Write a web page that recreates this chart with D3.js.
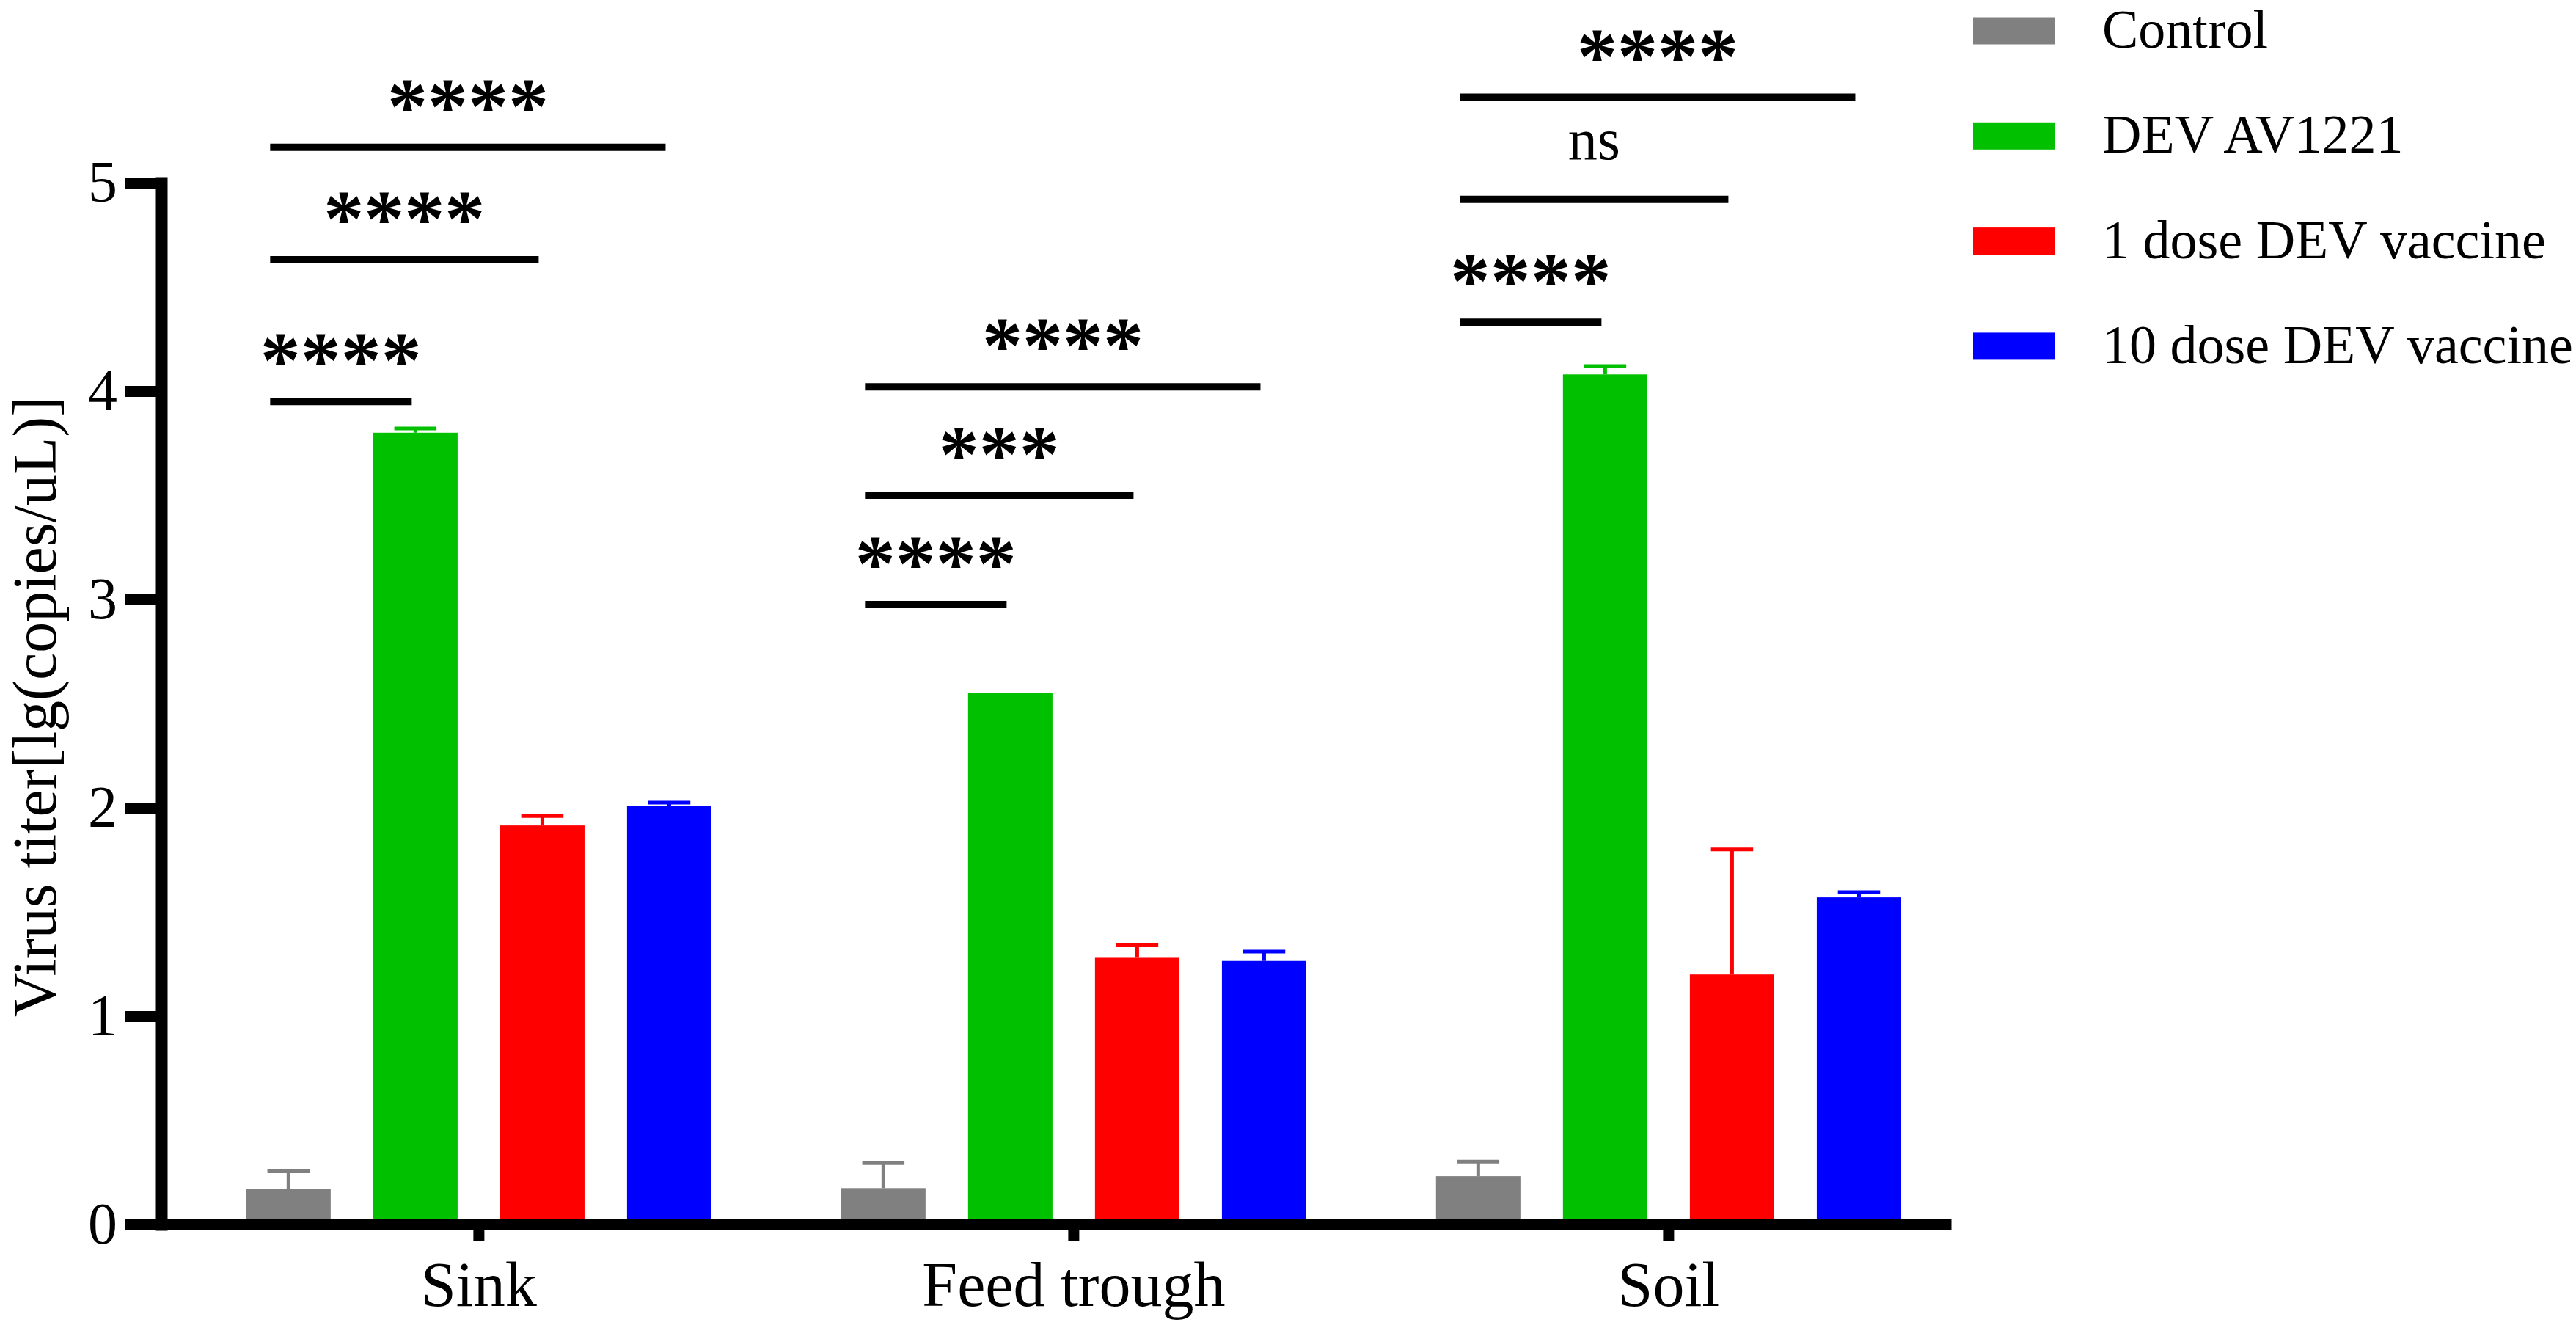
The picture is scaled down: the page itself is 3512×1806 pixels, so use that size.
<!DOCTYPE html>
<html lang="en">
<head>
    <meta charset="UTF-8">
    <title>Virus titer</title>
    <script src="https://d3js.org/d3.v7.min.js"></script>
    <style>
        body { margin: 0; background: #fff; }
        text { font-family: "Liberation Serif", "Times New Roman", serif; fill: #000; }
    </style>
</head>
<body>
    <script>
        // groups on the x axis and the four treatments
        const groups = ["Sink", "Feed trough", "Soil"];
        const series = ["Control", "DEV AV1221", "1 dose DEV vaccine", "10 dose DEV vaccine"];
        const colors = ["#808080", "#00c000", "#ff0000", "#0000ff"];

        // mean values per group, in series order
        const sinkMeans = [0.17, 3.80, 1.915, 2.01];
        const feedMeans = [0.175, 2.55, 1.28, 1.265];
        const soilMeans = [0.232, 4.08, 1.20, 1.57];

        // error (upper whisker length) per group
        const sinkErr = [0.085, 0.02, 0.045, 0.015];
        const feedErr = [0.12, 0, 0.06, 0.045];
        const soilErr = [0.07, 0.04, 0.60, 0.025];

        const yTicks = [0, 1, 2, 3, 4, 5];

        // significance lines: group, compared series, height (axis units), label
        const sigGroup = ["Sink", "Sink", "Sink", "Feed trough", "Feed trough", "Feed trough", "Soil", "Soil", "Soil"];
        const sigTo = [1, 2, 3, 1, 2, 3, 1, 2, 3];
        const sigY = [3.95, 4.63, 5.17, 2.975, 3.50, 4.02, 4.33, 4.92, 5.41];
        const sigLabel = ["****", "****", "****", "****", "***", "****", "****", "ns", "****"];

        const means = [sinkMeans, feedMeans, soilMeans];
        const errs = [sinkErr, feedErr, soilErr];

        const w = 3512;
        const h = 1806;

        const bars = [];
        groups.forEach((g, gi) => {
            series.forEach((s, si) => {
                bars.push({ group: g, series: s, value: means[gi][si], err: errs[gi][si], color: colors[si] });
            });
        });

        const svg = d3.select("body")
            .append("svg")
            .attr("width", w)
            .attr("height", h);

        const yScale = d3.scaleLinear()
            .domain([0, 5])
            .range([1669, 249]);

        const x0 = d3.scaleBand()
            .domain(groups)
            .range([220, 2660])
            .paddingInner(0.218)
            .paddingOuter(0.1133)
            .align(0.63);

        const x1 = d3.scaleBand()
            .domain(series)
            .range([0, x0.bandwidth()])
            .paddingInner(0.335);

        const barX = (d) => x0(d.group) + x1(d.series);
        const barCenter = (g, s) => x0(g) + x1(s) + x1.bandwidth() / 2;

        // bars
        svg.append("g")
            .selectAll("rect")
            .data(bars)
            .enter()
            .append("rect")
            .attr("x", (d) => barX(d))
            .attr("y", (d) => yScale(d.value))
            .attr("width", x1.bandwidth())
            .attr("height", (d) => yScale(0) - yScale(d.value))
            .attr("fill", (d) => d.color);

        // error bars (upper only)
        const eb = svg.append("g")
            .selectAll("g")
            .data(bars.filter((d) => d.err > 0))
            .enter()
            .append("g")
            .attr("stroke", (d) => d.color)
            .attr("stroke-width", 5);

        eb.append("line")
            .attr("x1", (d) => barX(d) + x1.bandwidth() / 2)
            .attr("x2", (d) => barX(d) + x1.bandwidth() / 2)
            .attr("y1", (d) => yScale(d.value))
            .attr("y2", (d) => yScale(d.value + d.err));

        eb.append("line")
            .attr("x1", (d) => barX(d) + x1.bandwidth() / 4)
            .attr("x2", (d) => barX(d) + x1.bandwidth() * 3 / 4)
            .attr("y1", (d) => yScale(d.value + d.err))
            .attr("y2", (d) => yScale(d.value + d.err));

        // axes
        const yAxis = d3.axisLeft(yScale)
            .tickValues(yTicks)
            .tickFormat(d3.format("d"))
            .tickSize(50)
            .tickSizeOuter(0)
            .tickPadding(10);

        const gy = svg.append("g")
            .attr("transform", "translate(220,0)")
            .call(yAxis);
        gy.select(".domain").attr("stroke-width", 16).attr("stroke-linecap", "square");
        gy.selectAll(".tick line").attr("stroke-width", 15);
        gy.selectAll(".tick text")
            .attr("font-family", "Liberation Serif")
            .attr("font-size", 80);

        const xAxis = d3.axisBottom(x0)
            .tickSize(22)
            .tickSizeOuter(0)
            .tickPadding(28);

        const gx = svg.append("g")
            .attr("transform", "translate(0,1669)")
            .call(xAxis);
        gx.select(".domain").attr("stroke-width", 15);
        gx.selectAll(".tick line").attr("stroke-width", 15);
        gx.selectAll(".tick text")
            .attr("font-family", "Liberation Serif")
            .attr("font-size", 86);

        // y axis title
        svg.append("text")
            .attr("transform", "translate(76,963) rotate(-90)")
            .attr("text-anchor", "middle")
            .attr("font-size", 84)
            .text("Virus titer[lg(copies/uL)]");

        // significance lines
        const sig = svg.append("g")
            .selectAll("g")
            .data(sigY)
            .enter()
            .append("g");

        const sx1 = (d, i) => barCenter(sigGroup[i], series[0]) - 25;
        const sx2 = (d, i) => barCenter(sigGroup[i], series[sigTo[i]]) - 5;

        sig.append("line")
            .attr("x1", sx1)
            .attr("x2", sx2)
            .attr("y1", (d) => yScale(d))
            .attr("y2", (d) => yScale(d))
            .attr("stroke", "#000")
            .attr("stroke-width", 10);

        sig.append("text")
            .attr("x", (d, i) => (sx1(d, i) + sx2(d, i)) / 2)
            .attr("y", (d, i) => sigLabel[i] === "ns" ? yScale(d) - 55 : yScale(d) - 19)
            .attr("text-anchor", "middle")
            .attr("font-family", (d, i) => sigLabel[i] === "ns" ? "Liberation Serif" : "Liberation Sans")
            .attr("font-weight", (d, i) => sigLabel[i] === "ns" ? "normal" : "bold")
            .attr("font-size", (d, i) => sigLabel[i] === "ns" ? 80 : 110)
            .text((d, i) => sigLabel[i]);

        // legend
        const legend = svg.append("g")
            .selectAll("g")
            .data(series)
            .enter()
            .append("g")
            .attr("transform", (d, i) => "translate(2690," + (42 + i * 143.3) + ")");

        legend.append("rect")
            .attr("x", 0)
            .attr("y", -18.5)
            .attr("width", 112)
            .attr("height", 37)
            .attr("fill", (d, i) => colors[i]);

        legend.append("text")
            .attr("x", 176)
            .attr("y", 23)
            .attr("font-size", 74)
            .text((d) => d);
    </script>
</body>
</html>
